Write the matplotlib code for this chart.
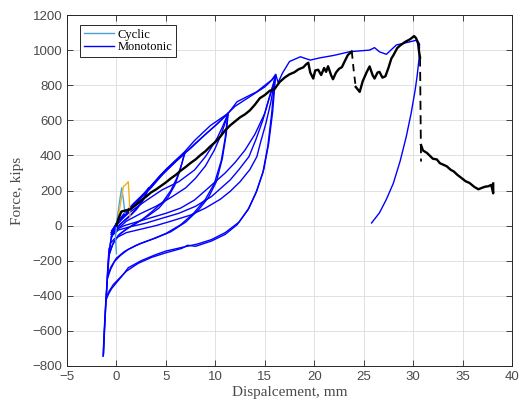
import matplotlib
matplotlib.use("Agg")
import matplotlib.pyplot as plt

# ---- cyclic loops (displacement mm, force kips) ----
spine_1_x = [-1.35, -1.3, -1.22, -1.12, -1.02, -0.92, -0.8, -0.65, -0.45, -0.2, 0.1]
spine_1_y = [-745, -680, -580, -470, -380, -290, -190, -110, -50, -10, 20]
spine_2_x = [-1.33, -1.27, -1.18, -1.08, -0.98, -0.86, -0.72, -0.55, -0.3]
spine_2_y = [-740, -660, -560, -450, -360, -260, -160, -80, -30]
spine_3_x = [-1.3, -1.24, -1.15, -1.05, -0.96, -0.88, -0.75]
spine_3_y = [-730, -640, -530, -430, -340, -240, -130]

low16a_x = [-1.02, -0.8, -0.5, 0, 0.6, 1.2, 2.5, 3.9, 5, 6.8, 8.2, 9.6, 11, 12.4, 13.4, 14.2, 14.9, 15.4, 15.8, 16.1]
low16a_y = [-420, -390, -360, -325, -285, -240, -200, -167, -145, -122, -105, -80, -40, 20, 100, 200, 320, 470, 650, 860]
low16b_x = [-0.98, -0.7, -0.3, 0.3, 1, 2.2, 3.6, 5, 6.6, 7.2, 8, 9.6, 11, 12.2, 13.3, 14.1, 14.8, 15.3, 15.7, 16.0]
low16b_y = [-400, -370, -335, -300, -260, -215, -180, -155, -130, -112, -118, -88, -50, 5, 90, 185, 300, 450, 640, 830]
low11a_x = [-0.9, -0.6, -0.2, 0.4, 1.2, 2.5, 4, 5.5, 7, 8.3, 9.3, 10.1, 10.7, 11.1, 11.3]
low11a_y = [-300, -250, -205, -170, -135, -100, -70, -35, 20, 90, 160, 250, 380, 520, 640]
low11b_x = [-0.88, -0.55, 0, 0.8, 2, 3.5, 5, 6.5, 7.8, 9, 9.9, 10.6, 11.0, 11.25]
low11b_y = [-285, -235, -185, -148, -112, -80, -45, 5, 70, 150, 240, 370, 500, 630]
low7a_x = [-0.75, -0.4, 0.2, 1, 2, 3.2, 4.3, 5.2, 5.9, 6.4, 6.9]
low7a_y = [-170, -110, -55, -20, 15, 55, 100, 160, 230, 310, 415]
low7b_x = [-0.72, -0.3, 0.4, 1.3, 2.5, 3.6, 4.7, 5.5, 6.1, 6.6, 6.95]
low7b_y = [-160, -95, -45, -10, 30, 80, 135, 200, 270, 350, 420]
low3a_x = [-0.55, -0.2, 0.4, 1.2, 2, 2.6, 3.0, 3.25]
low3a_y = [-70, -30, 10, 45, 90, 135, 175, 215]
low3b_x = [-0.5, 0, 0.7, 1.5, 2.2, 2.8, 3.2]
low3b_y = [-60, -15, 25, 65, 110, 160, 210]

ret16a_x = [16.1, 15.4, 14.8, 14.1, 13.4, 12.4, 11.5, 10.5, 9.6, 8, 6.3, 4.5, 2.9, 1.5, 0.2, -0.5]
ret16a_y = [850, 720, 600, 490, 393, 320, 260, 210, 165, 110, 70, 40, 13, -5, -25, -60]
ret16b_x = [16.05, 15.6, 15.1, 14.6, 14.2, 13.5, 12.5, 11.5, 10.5, 9, 7.5, 5.5, 4, 2.5, 1, -0.2, -0.6]
ret16b_y = [840, 700, 580, 480, 393, 320, 250, 195, 150, 100, 60, 25, 0, -20, -40, -75, -100]
ret16c_x = [16.1, 15.0, 14.0, 13.0, 12.0, 11.0, 10.0, 9.0, 7.9, 6.5, 5, 3.5, 2, 0.8, -0.3]
ret16c_y = [850, 640, 520, 430, 360, 300, 250, 200, 146, 100, 70, 45, 20, 0, -30]
ret11a_x = [11.3, 10.7, 10.2, 9.6, 9.0, 7.9, 6.3, 4.6, 2.8, 1.2, 0, -0.5]
ret11a_y = [640, 560, 500, 445, 393, 317, 250, 203, 135, 70, 10, -30]
ret11b_x = [11.25, 10.6, 9.9, 9.0, 8.0, 7.0, 5.5, 4.0, 2.5, 1.0, -0.3]
ret11b_y = [630, 520, 430, 340, 270, 215, 160, 110, 70, 25, -40]

up3_x = [-0.5, 0.2, 1.2, 2.2, 3.2]
up3_y = [-40, 15, 80, 145, 210]
up7a_x = [-0.5, 0, 0.8, 1.8, 3.2, 4.5, 5.8, 6.9]
up7a_y = [-40, 15, 70, 130, 205, 290, 360, 415]
up7b_x = [-0.55, 0.1, 1, 2.2, 3.5, 4.8, 6, 6.9]
up7b_y = [-50, 10, 65, 140, 215, 300, 365, 410]
up11_x = [-0.5, 0.2, 1.5, 3, 4.5, 6, 7.5, 9, 10.3, 11.3]
up11_y = [-40, 20, 100, 195, 290, 370, 440, 520, 585, 640]
up16_x = [-0.5, 0.3, 2, 4, 6, 8, 10, 12, 13.5, 15, 16.1]
up16_y = [-40, 25, 130, 255, 365, 470, 570, 680, 735, 790, 850]

# last run: loading past 16 mm up to failure, then unloading
final_x = [-0.5, 0, 1.5, 3.2, 5, 6.9, 7.9, 9.5, 11.3, 12.2, 14.2, 14.8, 15.7, 16.1, 16.35,
           16.8, 17.5, 18.6, 19.6, 20.5, 22, 23.6, 25.6, 26.1, 26.6, 27.3, 28.3, 29.5,
           30.4, 30.65, 30.6, 30.4, 30.2, 29.8, 29.3, 28.7, 28.0, 27.3, 26.6, 25.8]
final_y = [-40, 13, 110, 203, 320, 421, 485, 570, 640, 706, 763, 790, 830, 862, 815,
           870, 935, 962, 943, 955, 970, 991, 1000, 1014, 990, 976, 1029, 1045,
           1057, 1035, 950, 850, 770, 640, 505, 370, 241, 150, 73, 15]

# first small cycles near the origin
teal_x = [0.0, -0.1, 0.1, 0.35, 0.53, 0.7, 0.86]
teal_y = [-160, -60, 50, 150, 215, 150, 70]
orange_x = [0.02, 0.3, 0.55, 0.7, 0.95, 1.2, 1.3, 1.37]
orange_y = [0, 90, 170, 222, 235, 250, 150, 51]

# ---- monotonic push (black) ----
mono1_x = [0, 0.2, 0.5, 0.9, 1.4, 2, 2.5, 3, 3.5, 4, 4.5, 5, 5.5, 6, 6.5, 7, 7.5, 8, 8.5, 9,
           9.5, 10, 10.5, 11, 11.5, 12, 12.5, 13, 13.5, 14, 14.5, 15, 15.5, 16, 16.5, 17,
           17.5, 18, 18.4, 18.9, 19.2, 19.4, 19.6, 19.9, 20.1, 20.4, 20.7, 21.0, 21.2,
           21.4, 21.7, 21.9, 22.2, 22.5, 22.8, 23.1, 23.4, 23.8]
mono1_y = [0, 40, 80, 86, 93, 119, 143, 165, 189, 206, 226, 246, 269, 289, 313, 334, 357, 377,
           402, 424, 452, 476, 507, 543, 571, 594, 617, 634, 657, 689, 726, 744, 768, 779,
           818, 843, 862, 874, 890, 902, 920, 928, 872, 838, 884, 888, 858, 898, 876,
           908, 858, 834, 872, 893, 903, 938, 972, 992]
drop1_x = [23.8, 24.0, 24.2]
drop1_y = [992, 880, 790]
mono2_x = [24.2, 24.6, 24.9, 25.3, 25.6, 25.9, 26.1, 26.4, 26.6, 26.9, 27.2, 27.5, 27.8,
           28.0, 28.4, 28.7, 29.2, 29.7, 30.1, 30.3, 30.5, 30.6, 30.7]
mono2_y = [790, 762, 822, 874, 907, 858, 838, 872, 876, 843, 851, 898, 952, 970, 1012,
           1027, 1047, 1062, 1080, 1068, 1038, 992, 958]
drop2_x = [30.7, 30.75, 30.8]
drop2_y = [958, 660, 365]
mono3_x = [30.8, 31.0, 31.4, 32.0, 32.4, 32.7, 33.4, 33.8, 34.1, 34.5, 34.9, 35.3, 35.7,
           36.2, 36.6, 37.0, 37.3, 37.6, 37.9, 38.1, 38.1]
mono3_y = [459, 428, 414, 381, 377, 356, 338, 318, 309, 288, 271, 253, 243, 220, 207, 216,
           222, 224, 232, 184, 240]

x_ticks = list(range(-5, 41, 5))
y_ticks = list(range(-800, 1201, 200))

plt.rcParams["font.family"] = ["Liberation Sans", "DejaVu Sans"]

fig = plt.figure(figsize=(5.23, 4.08), dpi=100)
ax = fig.add_axes([67 / 523, 42 / 408, 445 / 523, 351 / 408])

blue = "#0000ff"
cyc_lines = [
    (spine_1_x, spine_1_y), (spine_2_x, spine_2_y), (spine_3_x, spine_3_y),
    (low16a_x, low16a_y), (low16b_x, low16b_y), (low11a_x, low11a_y), (low11b_x, low11b_y),
    (low7a_x, low7a_y), (low7b_x, low7b_y), (low3a_x, low3a_y), (low3b_x, low3b_y),
    (ret16a_x, ret16a_y), (ret16b_x, ret16b_y), (ret16c_x, ret16c_y),
    (ret11a_x, ret11a_y), (ret11b_x, ret11b_y),
    (up3_x, up3_y), (up7a_x, up7a_y), (up7b_x, up7b_y), (up11_x, up11_y), (up16_x, up16_y),
]
for xs, ys in cyc_lines:
    ax.plot(xs, ys, color=blue, lw=1.0)
mono_line, = ax.plot(final_x, final_y, color=blue, lw=1.0, label="Monotonic")

cyc_line, = ax.plot(teal_x, teal_y, color="#4aa3d8", lw=1.0, label="Cyclic")
ax.plot(orange_x, orange_y, color="#EDB120", lw=1.0)

ax.plot(mono1_x, mono1_y, color="black", lw=1.7)
ax.plot(drop1_x, drop1_y, color="black", lw=1.3, ls=(0, (4, 3)))
ax.plot(mono2_x, mono2_y, color="black", lw=1.7)
ax.plot(drop2_x, drop2_y, color="black", lw=1.3, ls=(0, (5, 3)))
ax.plot(mono3_x, mono3_y, color="black", lw=1.7)

ax.set_xlim(-5, 40)
ax.set_ylim(-800, 1200)
ax.set_xticks(x_ticks)
ax.set_yticks(y_ticks)
ax.grid(True, color="#dcdcdc", lw=0.6)
ax.set_axisbelow(True)
ax.tick_params(direction="in", length=4, width=0.6, top=True, right=True,
               labelsize=9.5, colors="#262626", labelcolor="#4a4a4a")
for sp in ax.spines.values():
    sp.set_color("#262626")
    sp.set_linewidth(0.7)

ax.set_xlabel("Dispalcement, mm", family=["Liberation Serif"], fontsize=11,
              color="#4a4a4a", labelpad=2)
ax.set_ylabel("Force, kips", family=["Liberation Serif"], fontsize=11,
              color="#4a4a4a", labelpad=6)

leg = ax.legend(handles=[cyc_line, mono_line], loc="upper left",
                bbox_to_anchor=(0.029, 0.972), borderaxespad=0,
                prop={"family": "Liberation Serif", "size": 9},
                fancybox=False, framealpha=1, edgecolor="#262626",
                handlelength=2.4, handletextpad=0.3, labelspacing=0.05,
                borderpad=0.3)
leg.get_frame().set_linewidth(0.7)

fig.savefig("out.png", dpi=100)
